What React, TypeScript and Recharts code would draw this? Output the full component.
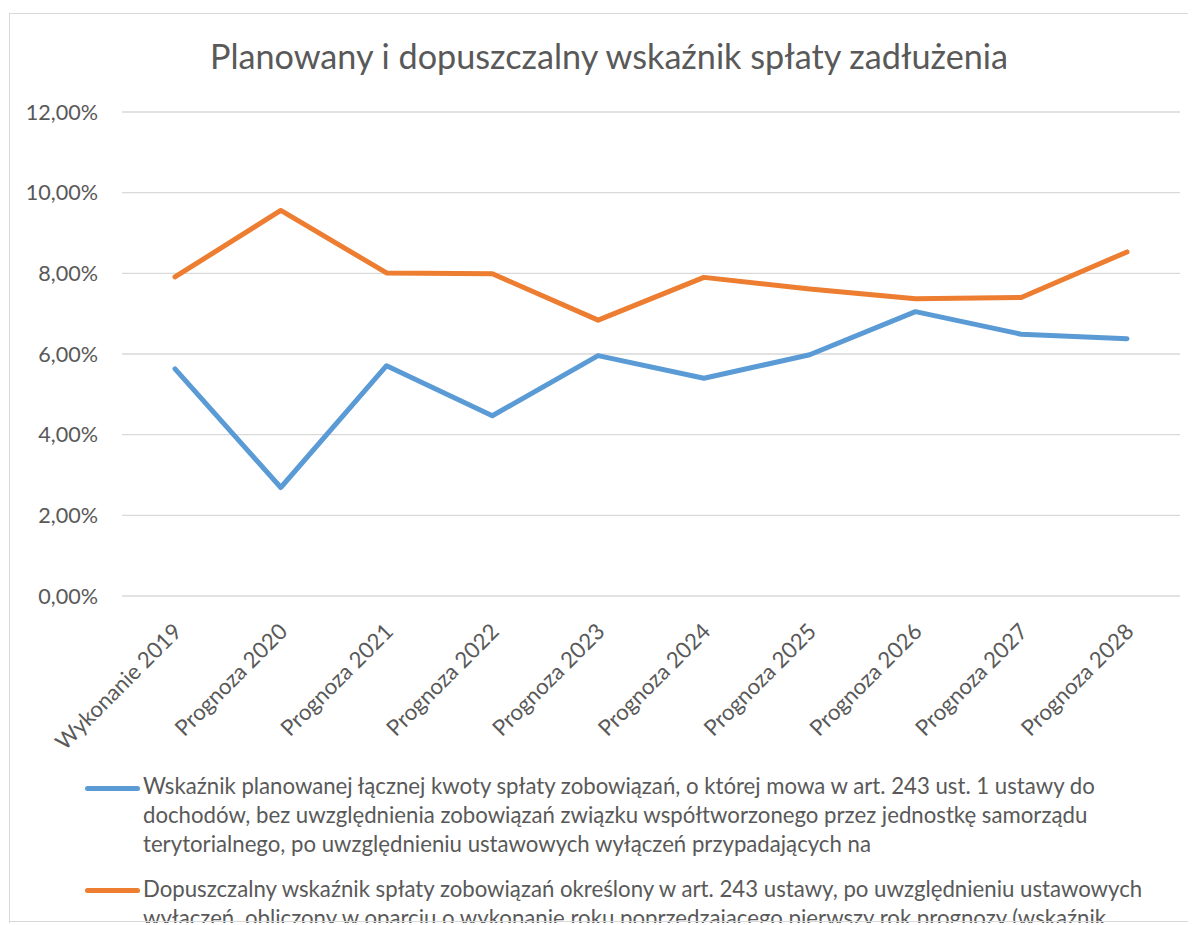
import React from 'react';
import { LineChart, Line, XAxis, YAxis, CartesianGrid } from 'recharts';

const categories = [
  'Wykonanie 2019',
  'Prognoza 2020',
  'Prognoza 2021',
  'Prognoza 2022',
  'Prognoza 2023',
  'Prognoza 2024',
  'Prognoza 2025',
  'Prognoza 2026',
  'Prognoza 2027',
  'Prognoza 2028',
];

const plannedValues = [5.63, 2.69, 5.71, 4.47, 5.96, 5.4, 5.98, 7.05, 6.49, 6.38];
const allowedValues = [7.91, 9.56, 8.01, 7.99, 6.84, 7.9, 7.61, 7.37, 7.4, 8.53];

const yTicks = [0, 2, 4, 6, 8, 10, 12];

const title = 'Planowany i dopuszczalny wskaźnik spłaty zadłużenia';

const plannedNameLines = [
  'Wskaźnik planowanej łącznej kwoty spłaty zobowiązań, o której mowa w art. 243 ust. 1 ustawy do',
  'dochodów, bez uwzględnienia zobowiązań związku współtworzonego przez jednostkę samorządu',
  'terytorialnego, po uwzględnieniu ustawowych wyłączeń przypadających na',
];
const allowedNameLines = [
  'Dopuszczalny wskaźnik spłaty zobowiązań określony w art. 243 ustawy, po uwzględnieniu ustawowych',
  'wyłączeń, obliczony w oparciu o wykonanie roku poprzedzającego pierwszy rok prognozy (wskaźnik',
];

const BLUE = '#5B9BD5';
const ORANGE = '#ED7D31';
const TEXT = '#595959';
const GRID = '#D9D9D9';
const FONT = 'Lato, "Open Sans", sans-serif';

const series = [
  { key: 'planned', color: BLUE, lines: plannedNameLines },
  { key: 'allowed', color: ORANGE, lines: allowedNameLines },
];

const data = categories.map((c, i) => ({
  cat: c,
  planned: plannedValues[i],
  allowed: allowedValues[i],
}));

const fmt = (v: number) => v.toFixed(2).replace('.', ',') + '%';

const XTick = (props: any) => {
  const { x, y, payload } = props;
  const ax = x + 8;
  const ay = y + 37;
  return (
    <text
      x={ax}
      y={ay}
      textAnchor="end"
      transform={`rotate(-45 ${ax} ${ay})`}
      fill={TEXT}
      fontSize={22.2}
      fontFamily={FONT}
    >
      {payload.value}
    </text>
  );
};

export default function App() {
  const lineH = 28.7;
  const legendTop = 764.1;
  const itemGap = 16.6;
  let cursor = legendTop;
  const legendItems = series.map((s) => {
    const top = cursor;
    cursor += s.lines.length * lineH + itemGap;
    return { ...s, top };
  });

  return (
    <div
      style={{
        position: 'relative',
        width: 1188,
        height: 915,
        overflow: 'hidden',
        fontFamily: FONT,
        background: '#fff',
      }}
    >
      <div
        style={{
          position: 'absolute',
          left: 1,
          top: 5,
          width: 1300,
          height: 1000,
          borderLeft: `1px solid ${GRID}`,
          borderTop: `1px solid ${GRID}`,
          boxSizing: 'border-box',
        }}
      />
      <div
        style={{
          position: 'absolute',
          left: 0,
          top: 27.2,
          width: 1202,
          textAlign: 'center',
          fontSize: 34.2,
          lineHeight: '41px',
          color: TEXT,
          whiteSpace: 'nowrap',
        }}
      >
        {title}
      </div>
      <div style={{ position: 'absolute', left: 0, top: 0 }}>
        <LineChart
          width={1188}
          height={760}
          data={data}
          margin={{ top: 104, right: 16, bottom: 22, left: 0 }}
        >
          <CartesianGrid vertical={false} stroke={GRID} strokeWidth={1.4} />
          <XAxis
            dataKey="cat"
            padding={{ left: 53, right: 53 }}
            axisLine={false}
            tickLine={false}
            tickSize={0}
            tickMargin={0}
            interval={0}
            height={150}
            tick={<XTick />}
          />
          <YAxis
            width={114}
            domain={[0, 12]}
            ticks={yTicks}
            tickFormatter={fmt}
            axisLine={false}
            tickLine={false}
            tickSize={0}
            tickMargin={24}
            tick={{ fill: TEXT, fontSize: 21.6, fontFamily: FONT }}
          />
          <Line
            dataKey="planned"
            type="linear"
            stroke={BLUE}
            strokeWidth={5}
            dot={false}
            activeDot={false}
            strokeLinecap="round"
            strokeLinejoin="round"
            isAnimationActive={false}
          />
          <Line
            dataKey="allowed"
            type="linear"
            stroke={ORANGE}
            strokeWidth={5}
            dot={false}
            activeDot={false}
            strokeLinecap="round"
            strokeLinejoin="round"
            isAnimationActive={false}
          />
        </LineChart>
      </div>
      {legendItems.map((s) => (
        <div key={s.key}>
          <div
            style={{
              position: 'absolute',
              left: 77,
              top: s.top + 22.9 - 7 - 2.5,
              width: 55,
              height: 5,
              borderRadius: 3,
              background: s.color,
            }}
          />
          {s.lines.map((ln, j) => (
            <div
              key={j}
              style={{
                position: 'absolute',
                left: 135,
                top: s.top + j * lineH,
                fontSize: 22.2,
                lineHeight: `${lineH}px`,
                color: TEXT,
                whiteSpace: 'nowrap',
              }}
            >
              {ln}
            </div>
          ))}
        </div>
      ))}
      <div
        style={{
          position: 'absolute',
          left: 1,
          top: 913,
          width: 1300,
          height: 1,
          background: GRID,
        }}
      />
    </div>
  );
}
